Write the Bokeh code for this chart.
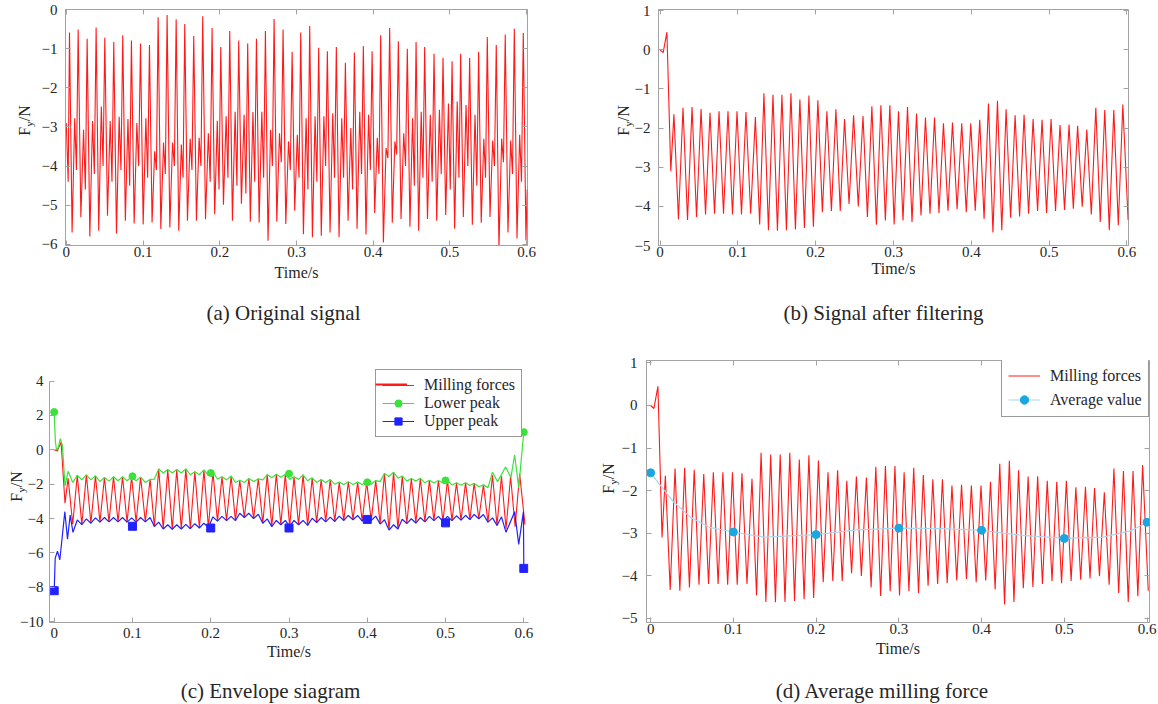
import math
from bokeh.plotting import figure
from bokeh.models import (Range1d, FixedTicker, NumeralTickFormatter, LinearAxis, Label,
                          Legend, LegendItem)
from bokeh.layouts import column, row
from bokeh.embed import file_html
from bokeh.resources import INLINE

# ---------------- data ----------------
x_ticks = [0, 0.1, 0.2, 0.3, 0.4, 0.5, 0.6]

# (a) original signal: per cycle big peak, deep trough, middle peak, middle trough
a_start_t = [0.0, 0.0025]
a_start_v = [-2.9, -4.4]
a_peak_t = [0.0042, 0.0155, 0.0272, 0.0389, 0.0502, 0.0619, 0.0736, 0.0849, 0.0967, 0.1084,
            0.1197, 0.1314, 0.1432, 0.1544, 0.1661, 0.1778, 0.1900, 0.2013, 0.2130, 0.2247,
            0.2364, 0.2478, 0.2595, 0.2708, 0.2825, 0.2943, 0.3055, 0.3172, 0.3289, 0.3402,
            0.3519, 0.3637, 0.3754, 0.3871, 0.3985, 0.4097, 0.4214, 0.4327, 0.4444, 0.4558,
            0.4670, 0.4792, 0.4909, 0.5027, 0.5139, 0.5256, 0.5373, 0.5486, 0.5603, 0.5720,
            0.5838, 0.5955]
a_peak_v = [-0.59, -0.51, -0.75, -0.46, -0.72, -0.83, -0.66, -0.79, -0.87, -0.91,
            -0.20, -0.14, -0.25, -0.37, -0.68, -0.17, -0.47, -0.96, -0.55, -0.79,
            -0.87, -0.75, -0.55, -0.24, -0.51, -1.08, -0.59, -0.42, -0.98, -1.07,
            -0.96, -1.36, -1.10, -0.93, -1.07, -0.66, -0.47, -0.81, -1.00, -0.83,
            -0.96, -1.13, -1.23, -1.32, -1.13, -1.24, -1.08, -0.70, -0.91, -0.64,
            -0.49, -0.60]
a_trough_v = [-5.70, -5.31, -5.80, -5.65, -5.27, -5.72, -5.40, -5.47, -5.49, -5.44,
              -5.61, -5.57, -5.65, -5.40, -5.40, -5.36, -5.23, -4.99, -5.40, -4.96,
              -5.42, -5.44, -5.91, -5.42, -5.48, -5.14, -5.74, -5.82, -5.78, -5.70,
              -5.82, -5.40, -5.60, -5.75, -5.20, -5.95, -5.45, -5.35, -5.55, -5.65,
              -5.35, -5.40, -5.25, -5.60, -5.30, -5.50, -5.45, -5.30, -6.10, -5.70,
              -5.85, -5.90]
a_mid_peak_v = [-2.78, -3.07, -2.85, -2.48, -2.85, -2.74, -2.80, -2.90, -2.78, -3.62,
                -3.40, -3.40, -3.45, -3.30, -3.28, -3.16, -2.84, -2.73, -2.61, -2.69,
                -2.62, -2.61, -3.07, -3.16, -3.37, -3.20, -2.78, -2.73, -2.73, -2.65,
                -2.78, -3.03, -2.61, -2.69, -3.28, -3.54, -3.37, -3.16, -2.78, -2.61,
                -2.69, -2.56, -2.40, -2.35, -2.44, -2.69, -3.30, -3.35, -3.30, -3.35,
                -3.20]
a_mid_trough_v = [-4.1, -4.6, -4.2, -4.0, -4.4, -4.1, -4.5, -4.0, -4.3, -4.1,
                  -4.2, -4.0, -4.3, -4.1, -4.0, -4.4, -4.6, -4.3, -4.5, -4.7,
                  -4.4, -4.3, -4.0, -3.9, -4.1, -4.3, -4.6, -4.4, -4.0, -4.3,
                  -4.3, -4.6, -4.2, -4.1, -4.2, -3.8, -3.7, -4.0, -4.5, -4.3,
                  -4.4, -4.2, -4.6, -4.3, -4.0, -4.5, -4.3, -4.0, -3.9, -4.2,
                  -4.4]
a_end_t, a_end_v = 0.6006, -4.6

# filtered milling force (b, c, d): start transient, then peaks / troughs
f_start_t = [0.0, 0.004, 0.0088, 0.0138]
f_start_v = [0.0, -0.07, 0.45, -3.1]
f_peak_t = [0.0178, 0.0295, 0.0411, 0.0527, 0.0642, 0.0758, 0.0873, 0.0989, 0.1104, 0.1225,
            0.1335, 0.1451, 0.1566, 0.1682, 0.1797, 0.1913, 0.2028, 0.2144, 0.2260, 0.2371,
            0.2487, 0.2608, 0.2722, 0.2838, 0.2953, 0.3064, 0.3180, 0.3296, 0.3411, 0.3527,
            0.3642, 0.3758, 0.3877, 0.3993, 0.4108, 0.4220, 0.4336, 0.4447, 0.4563, 0.4678,
            0.4794, 0.4909, 0.5025, 0.5140, 0.5256, 0.5366, 0.5484, 0.5600, 0.5715, 0.5831,
            0.5947]
f_peak_v = [-1.65, -1.48, -1.46, -1.51, -1.61, -1.57, -1.57, -1.57, -1.59, -1.72,
            -1.11, -1.15, -1.15, -1.11, -1.27, -1.17, -1.29, -1.57, -1.52, -1.77,
            -1.67, -1.69, -1.44, -1.42, -1.42, -1.57, -1.46, -1.63, -1.73, -1.73,
            -1.88, -1.86, -1.88, -1.88, -1.79, -1.37, -1.30, -1.52, -1.67, -1.66,
            -1.77, -1.79, -1.77, -1.92, -1.91, -1.94, -2.04, -1.48, -1.54, -1.54,
            -1.40]
f_trough_v = [-4.33, -4.35, -4.27, -4.21, -4.19, -4.19, -4.21, -4.21, -4.19, -4.46,
              -4.61, -4.62, -4.61, -4.59, -4.55, -4.52, -4.15, -4.12, -4.12, -3.94,
              -4.00, -4.27, -4.47, -4.36, -4.46, -4.36, -4.40, -4.23, -4.19, -4.17,
              -4.11, -4.07, -4.15, -4.11, -4.32, -4.67, -4.61, -4.29, -4.26, -4.19,
              -4.12, -4.17, -4.12, -4.09, -4.06, -4.01, -4.21, -4.40, -4.61, -4.48,
              -4.35]
f_end_t = 0.6015

# (c) envelopes
g_start_t = [0.0, 0.0015, 0.003, 0.005, 0.0078, 0.0105, 0.0138, 0.0178, 0.0237]
g_start_v = [2.2, 0.5, 0.0, 0.1, 0.65, 0.25, -2.1, -1.25, -1.9]
g_dips = [-1.75, -1.75, -1.85, -1.82, -1.80, -1.80, -1.80, -1.90, -1.70, -1.35,
          -1.35, -1.35, -1.45, -1.45, -1.50, -1.70, -1.75, -1.90, -1.90, -1.85,
          -1.75, -1.62, -1.60, -1.72, -1.72, -1.80, -1.90, -1.90, -2.00, -2.02,
          -2.02, -2.02, -2.00, -1.85, -1.55, -1.65, -1.82, -1.82, -1.92, -1.93,
          -1.93, -2.05, -2.06, -2.08, -2.15]
g_tail_t = [0.5542, 0.5600, 0.5665, 0.5767, 0.5835, 0.5883, 0.5935, 0.6000]
g_tail_v = [-2.2, -1.3, -1.85, -1.0, -1.6, -0.3, -2.2, 1.05]
b_start_t = [0.0, 0.0013, 0.0042, 0.0072, 0.0136, 0.017, 0.0204, 0.024]
b_start_v = [-8.2, -6.3, -5.9, -6.4, -3.6, -5.2, -3.8, -4.8]
b_bumps = [-4.08, -4.02, -3.96, -3.94, -3.94, -3.94, -3.96, -3.94, -3.94, -4.21,
           -4.36, -4.36, -4.34, -4.30, -4.27, -3.90, -3.87, -3.87, -3.69, -3.69,
           -3.75, -4.02, -4.11, -4.11, -4.11, -4.11, -3.98, -3.94, -3.92, -3.86,
           -3.82, -3.82, -3.86, -3.86, -4.07, -4.36, -4.04, -4.01, -3.94, -3.87,
           -3.87, -3.87, -3.84, -3.81, -3.76, -3.76, -3.96]
b_tail_t = [0.5715, 0.5773, 0.5883, 0.5935, 0.5995, 0.6000]
b_tail_v = [-3.9, -4.8, -3.6, -5.5, -3.6, -6.9]
mk_t = [0.0, 0.1, 0.2, 0.3, 0.4, 0.5, 0.6]
green_mk = [2.2, -1.54, -1.35, -1.39, -1.89, -1.78, 1.03]
blue_mk = [-8.2, -4.45, -4.55, -4.55, -4.05, -4.25, -6.9]

# (d) average value
avg_mk_v = [-1.58, -2.97, -3.03, -2.88, -2.93, -3.12, -2.74]
avg_t = [0.0, 0.026, 0.048, 0.071, 0.1, 0.137, 0.2, 0.249, 0.3, 0.351, 0.4, 0.449, 0.5,
         0.547, 0.582, 0.6]
avg_v = [-1.58, -2.23, -2.62, -2.86, -2.97, -3.09, -3.03, -2.92, -2.88, -2.89, -2.93,
         -3.05, -3.12, -3.09, -2.93, -2.74]

# ---------------- build series ----------------
ax_t, ax_v = list(a_start_t), list(a_start_v)
na = len(a_peak_t)
for k in range(na):
    t0 = a_peak_t[k]
    per = (a_peak_t[k + 1] - t0) if k < na - 1 else (t0 - a_peak_t[k - 1])
    ax_t += [t0, t0 + 0.3 * per]
    ax_v += [a_peak_v[k], a_trough_v[k]]
    if k < na - 1:
        ax_t += [t0 + 0.6 * per, t0 + 0.8 * per]
        ax_v += [a_mid_peak_v[k], a_mid_trough_v[k]]
ax_t.append(a_end_t)
ax_v.append(a_end_v)

fx, fy = list(f_start_t), list(f_start_v)
nf = len(f_peak_t)
for k in range(nf):
    t0 = f_peak_t[k]
    tt = (t0 + f_peak_t[k + 1]) / 2 if k < nf - 1 else f_end_t
    fx += [t0, tt]
    fy += [f_peak_v[k], f_trough_v[k]]

gx, gy = list(g_start_t), list(g_start_v)
for k in range(1, 47):
    gx.append(f_peak_t[k]); gy.append(f_peak_v[k])
    if k < 46:
        gx.append((f_peak_t[k] + f_peak_t[k + 1]) / 2); gy.append(g_dips[k - 1])
gx += g_tail_t; gy += g_tail_v

bx, by = list(b_start_t), list(b_start_v)
for k in range(1, 48):
    bx.append(f_peak_t[k]); by.append(b_bumps[k - 1])
    bx.append((f_peak_t[k] + f_peak_t[k + 1]) / 2); by.append(f_trough_v[k])
bx += b_tail_t; by += b_tail_v

# ---------------- styling helpers ----------------
FONT = "Liberation Serif"
RED = "#ff1a1a"
GREEN = "#3be23b"
BLUE = "#2222ff"
CYAN = "#1aa6e0"
CYAN_LINE = "#a5d9ef"
AXC = "#a3a3a3"
TXT = "#262626"


def make_fig(w, h, bl, br, bt, bb, xr, yr, yticks, box=True, xstand=1, ystand=8,
             xlab_stand=2):
    p = figure(width=w, height=h, x_range=Range1d(*xr), y_range=Range1d(*yr),
               output_backend="svg", toolbar_location=None,
               min_border_left=bl, min_border_right=br, min_border_top=bt,
               min_border_bottom=bb)
    p.xgrid.visible = False
    p.ygrid.visible = False
    p.background_fill_color = "white"
    p.border_fill_color = "white"
    p.outline_line_color = AXC
    p.outline_line_alpha = 1.0 if box else 0.0
    for axis, ticks, stand in ((p.xaxis[0], x_ticks, xstand), (p.yaxis[0], yticks, ystand)):
        axis.ticker = FixedTicker(ticks=ticks)
        axis.axis_line_color = AXC
        axis.major_tick_line_color = AXC
        axis.major_tick_in = 5
        axis.major_tick_out = 0
        axis.minor_tick_line_color = None
        axis.major_label_text_font = FONT
        axis.major_label_text_font_size = "15px"
        axis.major_label_text_color = TXT
        axis.major_label_standoff = stand
    p.xaxis[0].formatter = NumeralTickFormatter(format="0.[0]")
    p.xaxis[0].axis_label = "Time/s"
    p.xaxis[0].axis_label_text_font = FONT
    p.xaxis[0].axis_label_text_font_size = "16px"
    p.xaxis[0].axis_label_text_font_style = "normal"
    p.xaxis[0].axis_label_text_color = TXT
    p.xaxis[0].axis_label_standoff = xlab_stand
    if box:
        for loc, ticks in (("above", x_ticks), ("right", yticks)):
            extra = LinearAxis(ticker=FixedTicker(ticks=ticks), major_label_text_font_size="1px",
                               major_label_text_color=None, major_label_standoff=0,
                               major_tick_in=5, major_tick_out=0,
                               axis_line_color=None, major_tick_line_color=AXC,
                               minor_tick_line_color=None)
            p.add_layout(extra, loc)
    return p


def canvas_text(p, panel, x, y, text, size, angle=math.pi / 2, align="left"):
    p.add_layout(Label(x=x, y=y, x_units="canvas", y_units="canvas", text=text,
                       angle=angle, text_font=FONT, text_font_size=f"{size}px",
                       text_color=TXT, text_align=align, text_baseline="middle"), panel)


def ylabel(p, x, y, panels):
    # "F" with subscript "y", then "/N", rotated; (x, y) = bottom of the label
    canvas_text(p, panels[0], x, y, "F", 16)
    canvas_text(p, panels[1], x + 4.5, y - 8.9, "y", 11)
    canvas_text(p, panels[2], x, y - 14.4, "/N", 16)


def caption(p, x, y, text):
    canvas_text(p, "below", x, y, text, 21, angle=0.0, align="center")


def style_legend(lg, lh, sp):
    lg.label_text_font = FONT
    lg.label_text_font_size = "16px"
    lg.label_text_color = TXT
    lg.border_line_color = "#333333"
    lg.border_line_width = 1
    lg.background_fill_color = "white"
    lg.background_fill_alpha = 1.0
    lg.padding = 6
    lg.spacing = sp
    lg.margin = 0
    lg.glyph_width = 32
    lg.glyph_height = lh
    lg.label_height = lh
    lg.label_standoff = 10


# ---------------- (a) ----------------
pa = make_fig(578, 343, 65, 51, 9, 98, (-0.001, 0.601), (-6.03, 0.0),
              [-6, -5, -4, -3, -2, -1, 0], xstand=1, ystand=8, xlab_stand=4)
pa.line(ax_t, ax_v, line_color=RED, line_width=1.1)
ylabel(pa, 24, 135.2, ("left", "right", "left"))
caption(pa, 283, 312, "(a) Original signal")

# ---------------- (b) ----------------
pb = make_fig(580, 343, 80, 30, 9, 98, (-0.002, 0.602), (-5.0, 1.03),
              [-5, -4, -3, -2, -1, 0, 1], xstand=1, ystand=8, xlab_stand=0)
pb.line(fx, fy, line_color=RED, line_width=1.1)
ylabel(pb, 44.6, 135.2, ("left", "left", "left"))
caption(pb, 305, 312, "(b) Signal after filtering")

# ---------------- (c) ----------------
pc = make_fig(578, 361, 45, 50, 17, 82, (-0.006, 0.606), (-10.05, 5.2),
              [-10, -8, -6, -4, -2, 0, 2, 4], box=False, xstand=5, ystand=6, xlab_stand=2)
pc.yaxis[0].bounds = (-10.05, 4.0)
r_red_c = pc.line(fx, fy, line_color=RED, line_width=1.1)
r_g_line = pc.line(gx, gy, line_color=GREEN, line_width=1.2)
r_b_line = pc.line(bx, by, line_color=BLUE, line_width=1.2)
r_g_pts = pc.scatter(mk_t, green_mk, marker="circle", size=7, fill_color=GREEN,
                     line_color=GREEN)
r_b_pts = pc.scatter(mk_t, blue_mk, marker="square", size=8, fill_color=BLUE,
                     line_color=BLUE)
# hidden twin of the red line, used only for the legend swatch of the first row
r_red_key = pc.line(fx, fy, line_color=RED, line_width=2.2, visible=False)
leg_c = Legend(items=[LegendItem(label="Milling forces", renderers=[r_red_c]),
                      LegendItem(label="Lower peak", renderers=[r_g_line, r_g_pts]),
                      LegendItem(label="Upper peak", renderers=[r_b_line, r_b_pts])],
               location=(326, 185))
style_legend(leg_c, 18, 0)
pc.add_layout(leg_c)
leg_c_top = Legend(items=[LegendItem(label=" ", renderers=[r_red_key])],
                   location=(326, 229.5))
style_legend(leg_c_top, 18, 0)
leg_c_top.border_line_color = None
leg_c_top.background_fill_alpha = 0.0
leg_c_top.label_text_color = None
leg_c_top.label_standoff = 1
leg_c_top.inactive_fill_alpha = 0.0
pc.add_layout(leg_c_top)
ylabel(pc, 16, 158.2, ("left", "right", "right"))
caption(pc, 270, 347, "(c) Envelope siagram")

# ---------------- (d) ----------------
pd = make_fig(580, 361, 68, 9, 17, 82, (-0.005, 0.603), (-5.094, 1.056),
              [-5, -4, -3, -2, -1, 0, 1], xstand=1, ystand=9, xlab_stand=3)
r_red_d = pd.line(fx, fy, line_color=RED, line_width=1.1)
r_avg_line = pd.line(avg_t, avg_v, line_color=CYAN_LINE, line_width=1.2)
r_avg_pts = pd.scatter(mk_t, avg_mk_v, marker="circle", size=8, fill_color=CYAN,
                       line_color=CYAN)
leg_d = Legend(items=[LegendItem(label="Milling forces", renderers=[r_red_d]),
                      LegendItem(label="Average value", renderers=[r_avg_line, r_avg_pts])],
               location=(355, 205))
style_legend(leg_d, 21, 3)
pd.add_layout(leg_d)
ylabel(pd, 30, 150.2, ("left", "above", "left"))
caption(pd, 304, 347, "(d) Average milling force")

layout = column(row(pa, pb), row(pc, pd))
open("out.html", "w").write(file_html(layout, INLINE))
